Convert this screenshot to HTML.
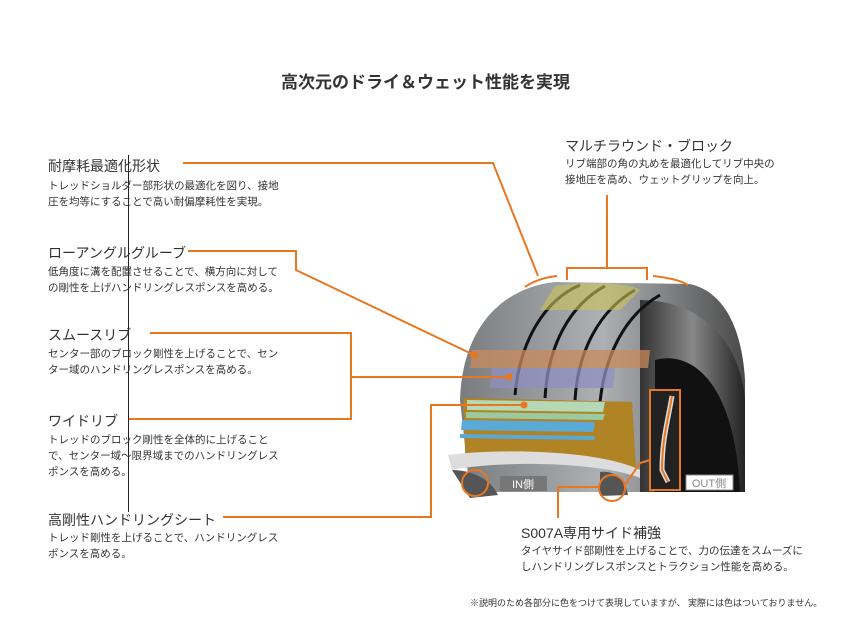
<!DOCTYPE html>
<html><head><meta charset="utf-8"><style>
body{margin:0;width:851px;height:643px;background:#fff;position:relative;overflow:hidden;font-family:"Liberation Sans","Noto Sans CJK JP",sans-serif;color:#333}
.t{position:absolute;white-space:nowrap}
.h{font-size:14px;color:#333}
.d{font-size:10.5px;line-height:16px;color:#333}
</style></head><body>
<svg width="851" height="643" style="position:absolute;left:0;top:0">
<defs>
<linearGradient id="tr" x1="0" y1="0" x2="1" y2="0"><stop offset="0" stop-color="#7a7d80"/><stop offset=".5" stop-color="#aeb1b4"/><stop offset="1" stop-color="#4a4a4a"/></linearGradient>
<linearGradient id="sw" x1="0" y1="0" x2="1" y2="0"><stop offset="0" stop-color="#333"/><stop offset=".5" stop-color="#888"/><stop offset="1" stop-color="#222"/></linearGradient>
</defs>
<path d="M460,400 C462,330 500,288 555,282 L690,284 C725,292 742,330 745,380 L745,492 L470,492 Z" fill="url(#tr)"/>
<path d="M640,300 C700,300 740,340 745,400 L745,492 L640,492 Z" fill="url(#sw)"/>
<path d="M655,360 C690,350 735,380 740,492 L655,492 Z" fill="#111"/>
<g stroke="#111" stroke-width="3" fill="none">
<path d="M515,395 C520,340 545,300 580,285"/>
<path d="M545,398 C548,345 570,305 605,286"/>
<path d="M575,400 C578,350 600,310 635,290"/>
<path d="M600,402 C605,355 625,315 660,295"/>
</g>
<path d="M472,350 L650,350 L648,368 L470,368 Z" fill="#c98a5c" opacity=".75"/>
<path d="M492,368 L615,368 L613,388 L490,388 Z" fill="#8f8fc0" opacity=".75"/>
<path d="M555,286 C580,282 630,282 640,290 L620,310 L540,310 Z" fill="#c9c35a" opacity=".6"/>
<path d="M463,398 L632,402 L636,470 C600,460 500,455 466,468 Z" fill="#8a6a20"/>
<path d="M463,398 L632,402 L636,470 C600,460 500,455 466,468 Z" fill="#b98a25" opacity=".8"/>
<path d="M467,400 L605,402 L603,412 L467,410 Z" fill="#b5d8b5"/>
<path d="M466,412 L605,414 L603,420 L466,418 Z" fill="#9ccaa0"/>
<path d="M462,420 L595,422 L593,432 L461,430 Z" fill="#5aaad8"/>
<path d="M460,434 L595,436 L594,440 L460,438 Z" fill="#5aaad8"/>
<path d="M448,455 C500,448 600,450 640,470 L640,478 C600,462 500,460 452,470 Z" fill="#ddd"/>
<path d="M452,470 C470,470 490,478 498,495 L470,498 Z" fill="#555"/>
<path d="M600,472 C615,470 625,480 628,495 L600,496 Z" fill="#555"/>
<rect x="650" y="390" width="30" height="100" fill="#222" stroke="#e87722" stroke-width="2"/>
<path d="M672,396 C668,420 662,440 662,470 L668,482" stroke="#ddd" stroke-width="5" fill="none"/>
<path d="M672,396 C668,420 662,440 662,470 L668,482" stroke="#e87722" stroke-width="2" fill="none"/>
<rect x="500" y="476" width="47" height="15" fill="#777"/>
<text x="523" y="488" font-size="11" fill="#fff" text-anchor="middle" font-family="Liberation Sans,Noto Sans CJK JP,sans-serif">IN側</text>
<rect x="686" y="475" width="47" height="15" fill="#fff" stroke="#888"/>
<text x="709" y="487" font-size="11" fill="#888" text-anchor="middle" font-family="Liberation Sans,Noto Sans CJK JP,sans-serif">OUT側</text>
<g stroke="#e87722" stroke-width="2" fill="none">
<path d="M183,163 L493,163 L538,276"/>
<path d="M525,287 C535,280 548,277 557,276"/>
<path d="M567,280 L567,268 L647,268 L647,280 M607,268 L607,195"/>
<path d="M653,276 C665,277 680,280 688,285"/>
<path d="M188,251 L296,251 L296,270 L474,355"/>
<path d="M150,333 L351,333 L351,419 L129,419 M351,377 L509,377"/>
<path d="M223,517 L431,517 L431,405 L524,405"/>
<path d="M558,518 L558,487 L600,487"/>
<path d="M625,485 L640,463 L650,460"/>
<circle cx="475" cy="483" r="13"/>
<circle cx="612" cy="488" r="13"/>
</g>
<g fill="#e87722"><circle cx="474" cy="355" r="3.5"/><circle cx="509" cy="377" r="3.5"/><circle cx="524" cy="405" r="3.5"/></g>
<line x1="128.5" y1="155" x2="128.5" y2="512" stroke="#222" stroke-width="1"/>
</svg>
<div class="t" style="left:0;width:851px;top:68px;text-align:center;font-size:17px;font-weight:bold;color:#333">高次元のドライ＆ウェット性能を実現</div>
<div class="t h" style="left:48px;top:156px">耐摩耗最適化形状</div>
<div class="t d" style="left:48px;top:178px">トレッドショルダー部形状の最適化を図り、接地<br>圧を均等にすることで高い耐偏摩耗性を実現。</div>
<div class="t h" style="left:48px;top:243px">ローアングルグルーブ</div>
<div class="t d" style="left:48px;top:264px">低角度に溝を配置させることで、横方向に対して<br>の剛性を上げハンドリングレスポンスを高める。</div>
<div class="t h" style="left:48px;top:325px">スムースリブ</div>
<div class="t d" style="left:48px;top:346px">センター部のブロック剛性を上げることで、セン<br>ター域のハンドリングレスポンスを高める。</div>
<div class="t h" style="left:48px;top:411px">ワイドリブ</div>
<div class="t d" style="left:48px;top:432px">トレッドのブロック剛性を全体的に上げること<br>で、センター域～限界域までのハンドリングレス<br>ポンスを高める。</div>
<div class="t h" style="left:48px;top:510px">高剛性ハンドリングシート</div>
<div class="t d" style="left:48px;top:530px">トレッド剛性を上げることで、ハンドリングレス<br>ポンスを高める。</div>
<div class="t h" style="left:565px;top:136px">マルチラウンド・ブロック</div>
<div class="t d" style="left:565px;top:156px">リブ端部の角の丸めを最適化してリブ中央の<br>接地圧を高め、ウェットグリップを向上。</div>
<div class="t h" style="left:521px;top:523px">S007A専用サイド補強</div>
<div class="t d" style="left:521px;top:543px">タイヤサイド部剛性を上げることで、力の伝達をスムーズに<br>しハンドリングレスポンスとトラクション性能を高める。</div>
<div class="t" style="left:470px;top:596px;font-size:9px;color:#333">※説明のため各部分に色をつけて表現していますが、 実際には色はついておりません。</div>
</body></html>
